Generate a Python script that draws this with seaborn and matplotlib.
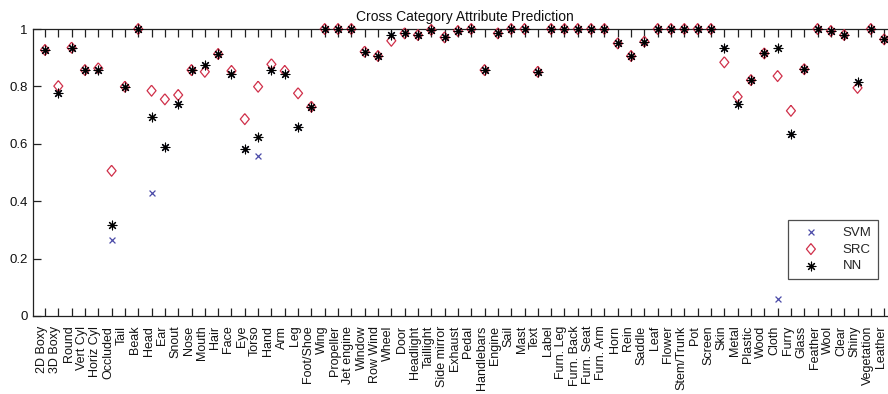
import numpy as np
import pandas as pd
import matplotlib
matplotlib.use("Agg")
import matplotlib.pyplot as plt
import matplotlib.transforms as mtransforms
import seaborn as sns

categories = [
    "2D Boxy", "3D Boxy", "Round", "Vert Cyl", "Horiz Cyl", "Occluded", "Tail",
    "Beak", "Head", "Ear", "Snout", "Nose", "Mouth", "Hair", "Face", "Eye",
    "Torso", "Hand", "Arm", "Leg", "Foot/Shoe", "Wing", "Propeller",
    "Jet engine", "Window", "Row Wind", "Wheel", "Door", "Headlight",
    "Taillight", "Side mirror", "Exhaust", "Pedal", "Handlebars", "Engine",
    "Sail", "Mast", "Text", "Label", "Furn. Leg", "Furn. Back", "Furn. Seat",
    "Furn. Arm", "Horn", "Rein", "Saddle", "Leaf", "Flower", "Stem/Trunk",
    "Pot", "Screen", "Skin", "Metal", "Plastic", "Wood", "Cloth", "Furry",
    "Glass", "Feather", "Wool", "Clear", "Shiny", "Vegetation", "Leather",
]

svm = [
    0.927, 0.776, 0.935, 0.857, 0.857, 0.265, 0.799, 1.000, 0.430, 0.588,
    0.738, 0.857, 0.875, 0.913, 0.843, 0.581, 0.559, 0.857, 0.843, 0.657,
    0.729, 1.000, 1.000, 1.000, 0.921, 0.906, 0.979, 0.985, 0.979, 0.997,
    0.971, 0.993, 1.000, 0.857, 0.985, 1.000, 1.000, 0.851, 1.000, 1.000,
    1.000, 1.000, 1.000, 0.950, 0.906, 0.956, 1.000, 1.000, 1.000, 1.000,
    1.000, 0.935, 0.738, 0.822, 0.915, 0.059, 0.634, 0.860, 1.000, 0.993,
    0.979, 0.816, 1.000, 0.964,
]

src = [
    0.927, 0.801, 0.935, 0.857, 0.863, 0.506, 0.799, 1.000, 0.785, 0.755,
    0.770, 0.857, 0.851, 0.913, 0.854, 0.686, 0.799, 0.877, 0.854, 0.776,
    0.729, 1.000, 1.000, 1.000, 0.921, 0.906, 0.959, 0.985, 0.979, 0.997,
    0.971, 0.993, 1.000, 0.857, 0.985, 1.000, 1.000, 0.851, 1.000, 1.000,
    1.000, 1.000, 1.000, 0.950, 0.906, 0.956, 1.000, 1.000, 1.000, 1.000,
    1.000, 0.884, 0.764, 0.822, 0.915, 0.836, 0.715, 0.860, 1.000, 0.993,
    0.979, 0.795, 1.000, 0.964,
]

nn = [
    0.927, 0.776, 0.935, 0.857, 0.857, 0.317, 0.799, 1.000, 0.694, 0.588,
    0.738, 0.857, 0.875, 0.913, 0.843, 0.581, 0.625, 0.857, 0.843, 0.657,
    0.729, 1.000, 1.000, 1.000, 0.921, 0.906, 0.979, 0.985, 0.979, 0.997,
    0.971, 0.993, 1.000, 0.857, 0.985, 1.000, 1.000, 0.851, 1.000, 1.000,
    1.000, 1.000, 1.000, 0.950, 0.906, 0.956, 1.000, 1.000, 1.000, 1.000,
    1.000, 0.935, 0.738, 0.822, 0.915, 0.935, 0.634, 0.860, 1.000, 0.993,
    0.979, 0.816, 1.000, 0.964,
]

yticks = [0, 0.2, 0.4, 0.6, 0.8, 1]
ytick_labels = ["0", "0.2", "0.4", "0.6", "0.8", "1"]

pos = np.arange(1, len(categories) + 1)
df = pd.DataFrame({
    "pos": np.tile(pos, 3),
    "value": np.concatenate([svm, src, nn]),
    "method": ["SVM"] * len(pos) + ["SRC"] * len(pos) + ["NN"] * len(pos),
})

sns.set_theme(style="ticks")
plt.rcParams["font.family"] = ["Liberation Sans", "DejaVu Sans"]

fig = plt.figure(figsize=(8.88, 3.94), dpi=100)
fig.patch.set_facecolor("white")
# axes run slightly past the right border of the canvas
ax = fig.add_axes([33 / 888, 78 / 394, 864.5 / 888, 287 / 394])
ax.set_facecolor("white")

diamond = [(0, 1), (0.82, 0), (0, -1), (-0.82, 0), (0, 1)]

sns.scatterplot(data=df[df.method == "SVM"], x="pos", y="value", ax=ax,
                marker="x", s=18, color="#4a4aa8", linewidth=0.9,
                clip_on=False, label="SVM", zorder=3)
sns.scatterplot(data=df[df.method == "SRC"], x="pos", y="value", ax=ax,
                marker=diamond, s=62, color="#d0304a", facecolor="none",
                edgecolor="#d0304a", linewidth=0.9, clip_on=False,
                label="SRC", zorder=4)
sns.scatterplot(data=df[df.method == "NN"], x="pos", y="value", ax=ax,
                marker=(8, 2, 0), s=40, color="black", linewidth=0.8,
                clip_on=False, label="NN", zorder=5)

ax.set_xlim(0.1, 65)
ax.set_ylim(0, 1)
ax.set_xlabel("")
ax.set_ylabel("")
ax.set_title("Cross Category Attribute Prediction", fontsize=10, pad=6,
             color="#111111")

ax.set_xticks(pos)
ax.set_xticklabels(categories, rotation=90, fontsize=9, va="top", ha="center")
ax.set_yticks(yticks)
ax.set_yticklabels(ytick_labels, fontsize=9.5)

for side in ["left", "bottom", "top"]:
    ax.spines[side].set_visible(True)
    ax.spines[side].set_color("#222222")
    ax.spines[side].set_linewidth(0.9)
ax.spines["right"].set_visible(False)

ax.tick_params(axis="x", direction="in", length=6, width=0.9, top=True,
               bottom=True, pad=7, colors="#222222", labelcolor="#111111")
ax.tick_params(axis="y", direction="in", length=6, width=0.9, left=True,
               right=False, pad=4, colors="#222222", labelcolor="#111111")

shift = mtransforms.ScaledTranslation(-3 / 100, 0, fig.dpi_scale_trans)
for lbl in ax.get_xticklabels():
    lbl.set_transform(lbl.get_transform() + shift)

leg = ax.legend(loc="lower right", bbox_to_anchor=(0.9775, 0.129),
                fontsize=9.5, frameon=True, fancybox=False, borderpad=0.5,
                handletextpad=1.2, labelspacing=0.35, handlelength=2.4,
                borderaxespad=0)
leg.get_frame().set_edgecolor("#222222")
leg.get_frame().set_linewidth(0.9)

fig.savefig("out.png", dpi=100, facecolor="white")
